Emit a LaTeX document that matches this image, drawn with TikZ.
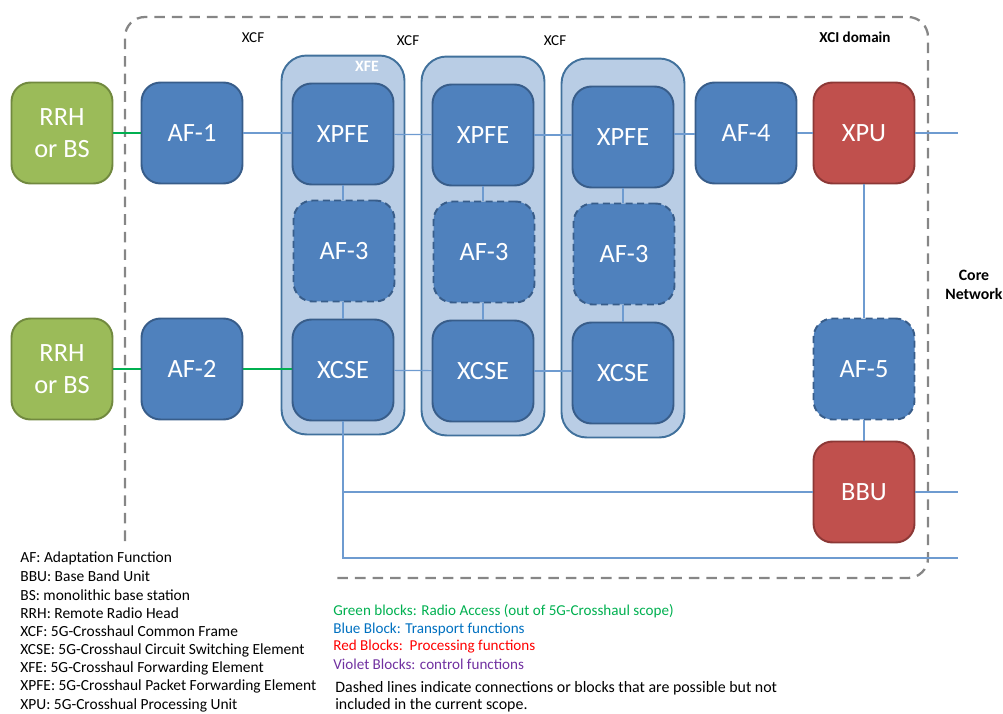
\documentclass[tikz,border=0pt]{standalone}
\usepackage{fontspec}
\setmainfont{Carlito}
\usepackage{xcolor}
\usetikzlibrary{positioning,calc}
\definecolor{blueFill}{HTML}{4F81BD}
\definecolor{blueLine}{HTML}{385D8A}
\definecolor{greenFill}{HTML}{9BBB59}
\definecolor{greenLine}{HTML}{71893F}
\definecolor{redFill}{HTML}{C0504D}
\definecolor{redLine}{HTML}{8C3836}
\definecolor{xfeFill}{HTML}{B9CDE5}
\definecolor{xfeLine}{HTML}{41719C}
\definecolor{linkBlue}{HTML}{6E9BD0}
\definecolor{linkGreen}{HTML}{00B050}
\definecolor{legBlue}{HTML}{0070C0}
\definecolor{legViolet}{HTML}{7030A0}
\tikzset{
  block/.style={rounded corners=0.38cm, line width=1.1pt,
    minimum width=2.02cm, minimum height=2.02cm, align=center,
    text=white, font=\fontsize{15}{18}\selectfont},
  tblock/.style={block, fill=blueFill, draw=blueLine},
  ablock/.style={block, fill=greenFill, draw=greenLine},
  pblock/.style={block, fill=redFill, draw=redLine},
  optblock/.style={tblock, dashed, dash pattern=on 4pt off 2.5pt},
  xfebox/.style={rounded corners=0.5cm, line width=1.1pt, fill=xfeFill,
    draw=xfeLine, minimum width=2.46cm, minimum height=7.58cm},
  link/.style={linkBlue, line width=0.7pt},
  glink/.style={linkGreen, line width=0.7pt},
  small/.style={font=\fontsize{8.6}{10}\selectfont},
  legend/.style={small, anchor=west, inner sep=0pt}
}
\begin{document}
\begin{tikzpicture}[x=0.02cm,y=-0.02cm]
  \useasboundingbox (0,0) rectangle (1003,713);

  % XCI domain boundary (open where the legend sits)
  \draw[gray!95, line width=1.3pt, dash pattern=on 6pt off 4pt, rounded corners=0.4cm]
    (125,541) -- (125,17) -- (928,17) -- (928,578) -- (331,578);
  \node[small, font=\fontsize{8.6}{10}\selectfont\bfseries] (xci) at (855,37) {XCI domain};
  \node[small, font=\fontsize{9}{11}\selectfont\bfseries, align=center] (core) at (974,285) {Core\\Network};
  \node[small] (xcf1) at (253,38) {XCF};
  \node[small] (xcf2) at (408,41) {XCF};
  \node[small] (xcf3) at (555,41) {XCF};

  % radio access side
  \node[ablock] (rrh1) at (62,133) {RRH\\or BS};
  \node[ablock] (rrh2) at (62,369) {RRH\\or BS};
  \node[tblock] (af1) at (192,133) {AF-1};
  \node[tblock] (af2) at (192,369) {AF-2};

  % forwarding elements
  \foreach \i/\x/\d in {1/343/0, 2/483/1, 3/623/3} {
    \node[xfebox] (xfe\i) at (\x,245+\d) {};
    \node[tblock] (xpfe\i) at (\x,134+\d) {XPFE};
    \node[optblock] (afc\i) at (\x+1,251+\d) {AF-3};
    \node[tblock] (xcse\i) at (\x,370+\d) {XCSE};
    \draw[link] (xpfe\i) -- (afc\i.north -| xpfe\i);
    \draw[link] (afc\i.south -| xcse\i) -- (xcse\i);
  }
  \node[white, font=\fontsize{9}{11}\selectfont\bfseries] (xfelbl) at (367,66) {XFE};

  % processing
  \node[tblock] (af4) at (746,133) {AF-4};
  \node[pblock] (xpu) at (864,133) {XPU};
  \node[optblock] (af5) at (864,369) {AF-5};
  \node[pblock] (bbu) at (864,492) {BBU};

  \coordinate (out1) at (958,133);
  \coordinate (out2) at (958,492);
  \coordinate (out3) at (958,558);

  % connections
  \draw[glink] (rrh1) -- (af1);
  \draw[glink] (rrh2) -- (af2);
  \draw[glink] (af2) -- (xcse1.west |- af2);
  \draw[link] (af1) -- (xpfe1.west |- af1);
  \draw[link] (xpfe1) -- (xpfe2);
  \draw[link] (xpfe2.east) -- (xpfe2.east -| xpfe3.west);
  \draw[link] (xpfe3.west -| xpfe3.east) ++(0,-3) coordinate (p3) -- (p3 -| af4.west);
  \draw[link] (af4) -- (xpu);
  \draw[link] (xpu) -- (out1);
  \draw[link] (xcse1) -- (xcse2);
  \draw[link] (xcse2.east) -- (xcse2.east -| xcse3.west);
  \draw[link] (xpu) -- (af5);
  \draw[link] (af5) -- (bbu);
  \draw[link] (bbu) -- (out2);
  \draw[link] (xcse1.south) |- (bbu.west);
  \draw[link] (xcse1.south) |- (out3);

  % legend
  \foreach \t [count=\i from 0] in {{AF: Adaptation Function},
      {BBU: Base Band Unit}, {BS: monolithic base station},
      {RRH: Remote Radio Head}, {XCF: 5G-Crosshaul Common Frame},
      {XCSE: 5G-Crosshaul Circuit Switching Element},
      {XFE: 5G-Crosshaul Forwarding Element},
      {XPFE: 5G-Crosshaul Packet Forwarding Element},
      {XPU: 5G-Crosshual Processing Unit}}
    \node[legend, font=\fontsize{8.8}{10}\selectfont] (abbr\i) at (20,558+18.4*\i) {\t};

  \node[legend, linkGreen] (leg1) at (333,611) {Green blocks: Radio Access (out of 5G-Crosshaul scope)};
  \node[legend, legBlue] (leg2) at (333,629) {Blue Block: Transport functions};
  \node[legend, red] (leg3) at (333,647) {Red Blocks:\ \ Processing functions};
  \node[legend, legViolet] (leg4) at (333,664) {Violet Blocks: control functions};
  \node[legend, font=\fontsize{9.05}{11}\selectfont] (leg5) at (335,688) {Dashed lines indicate connections or blocks that are possible but not};
  \node[legend, font=\fontsize{9.05}{11}\selectfont] (leg6) at (335,705) {included in the current scope.};
\end{tikzpicture}
\end{document}
